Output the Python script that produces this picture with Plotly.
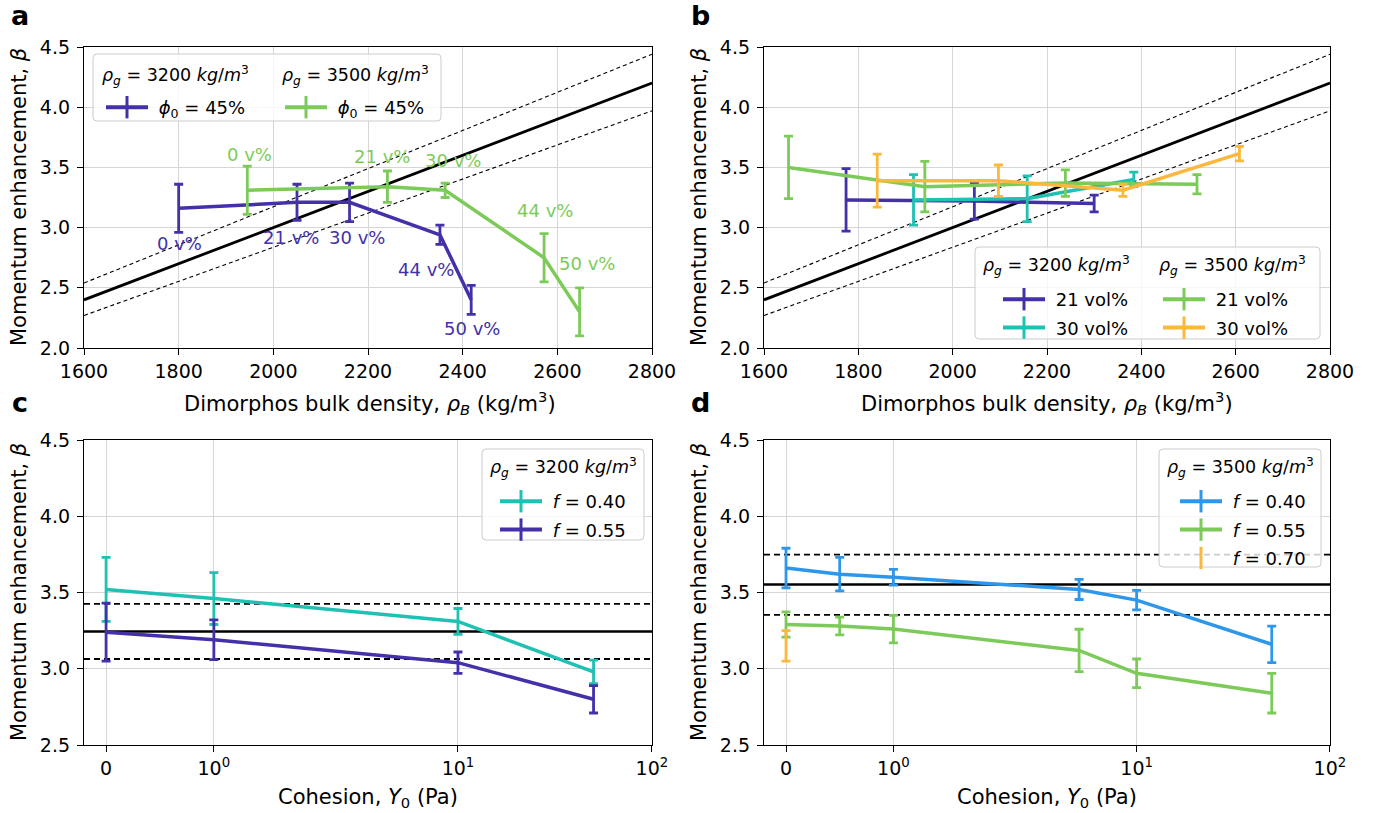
import math
import plotly.graph_objects as go

# every pixel position below is in the 1380x813 screen frame
W, H = 1380, 813
OFF = 0
FONT = "DejaVu Sans"

# ---------------- data ----------------
# reference beta-density relation (panels a, b)
rho_ref = [1600, 2800]
beta_ref = [2.40, 4.20]
beta_ref_hi = [2.54, 4.44]
beta_ref_lo = [2.27, 3.97]

# panel a : phi0 = 45 %
a_rho_3200 = [1800, 2050, 2161, 2352, 2418]
a_beta_3200 = [3.16, 3.21, 3.21, 2.94, 2.40]
a_err_3200 = [0.20, 0.15, 0.16, 0.08, 0.12]
a_rho_3500 = [1945, 2241, 2363, 2572, 2647]
a_beta_3500 = [3.31, 3.34, 3.31, 2.75, 2.30]
a_err_3500 = [0.20, 0.13, 0.06, 0.20, 0.20]
a_labels = ["0 v%", "21 v%", "30 v%", "44 v%", "50 v%"]

# panel b
b_rho_3200_21 = [1774, 2046, 2300]
b_beta_3200_21 = [3.23, 3.22, 3.20]
b_err_3200_21 = [0.26, 0.15, 0.07]
b_rho_3200_30 = [1917, 2158, 2384]
b_beta_3200_30 = [3.23, 3.24, 3.40]
b_err_3200_30 = [0.21, 0.19, 0.06]
b_rho_3500_21 = [1652, 1941, 2239, 2518]
b_beta_3500_21 = [3.50, 3.34, 3.37, 3.36]
b_err_3500_21 = [0.26, 0.21, 0.11, 0.08]
b_rho_3500_30 = [1840, 2097, 2361, 2608]
b_beta_3500_30 = [3.39, 3.39, 3.31, 3.615]
b_err_3500_30 = [0.22, 0.13, 0.05, 0.06]

# panel c : rho_g = 3200
c_Y0 = [0, 1, 10, 50]
c_beta_f040 = [3.52, 3.46, 3.31, 2.98]
c_err_f040 = [0.21, 0.17, 0.085, 0.077]
c_beta_f055 = [3.24, 3.19, 3.04, 2.80]
c_err_f055 = [0.19, 0.13, 0.07, 0.09]
c_ref = [3.245, 3.426, 3.064]      # solid, upper dashed, lower dashed

# panel d : rho_g = 3500
d_Y0 = [0, 0.5, 1, 5.8, 10, 50]
d_beta_f040 = [3.66, 3.62, 3.60, 3.52, 3.45, 3.16]
d_err_f040 = [0.13, 0.11, 0.052, 0.066, 0.064, 0.12]
d_beta_f055 = [3.29, 3.28, 3.26, 3.12, 2.97, 2.84]
d_err_f055 = [0.083, 0.058, 0.09, 0.139, 0.094, 0.13]
d_Y0_f070 = [0]
d_beta_f070 = [3.15]
d_err_f070 = [0.10]
d_ref = [3.552, 3.748, 3.353]

cohesion_ticks = [0, 1, 10, 100]
cohesion_ticktext = ["0", "10<sup>0</sup>", "10<sup>1</sup>", "10<sup>2</sup>"]

# ---------------- styling ----------------
INDIGO = "#4331a9"
TEAL = "#1fc1b3"
GREEN = "#7ccb59"
ORANGE = "#fcb83d"
BLUE = "#2e97ea"

# label placement for panel a (data coords)
a_lab_pos_3200 = [(1801, 2.87), (2037, 2.92), (2176, 2.92), (2322, 2.65), (2420, 2.16)]
a_lab_pos_3500 = [(1949, 3.61), (2230, 3.59), (2379, 3.56), (2573, 3.14), (2662, 2.70)]

# symlog-like cohesion axis: linear 0..1, then per-decade widths
DEC_W = [2.265, 1.80]


def cohesion_pos(v):
    out = []
    for y in v:
        if y <= 1:
            out.append(float(y))
        elif y <= 10:
            out.append(1 + DEC_W[0] * math.log10(y))
        else:
            out.append(1 + DEC_W[0] + DEC_W[1] * math.log10(y / 10))
    return out


C_RANGE = [-0.205, 1 + DEC_W[0] + DEC_W[1] + 0.0005]


def PX(px):
    return (px - OFF) / W


def PY(py):
    return 1 - (py - OFF) / H


fig = go.Figure()


def err_trace(x, y, e, color, xa, ya):
    return go.Scatter(
        x=x, y=y, mode="lines", xaxis=xa, yaxis=ya, showlegend=False, hoverinfo="skip",
        line=dict(color=color, width=3.5),
        error_y=dict(type="data", array=e, visible=True, color=color, thickness=2.8, width=4.5),
    )


def ref_line(x, y, xa, ya, dash=None, width=2.8):
    return go.Scatter(x=x, y=y, mode="lines", xaxis=xa, yaxis=ya, showlegend=False,
                      hoverinfo="skip", line=dict(color="black", width=width, dash=dash))


def legend_entry(name, color, legend, group, line=True):
    return go.Scatter(
        x=[None], y=[None], mode="lines+markers" if line else "markers",
        name="\u00a0" + name, legend=legend, legendgroup=group,
        xaxis="x", yaxis="y", hoverinfo="skip",
        line=dict(color=color, width=4),
        marker=dict(symbol="line-ns", size=20, color=color, line=dict(color=color, width=3)),
    )


# --- panel a / b reference lines ---
for xa, ya in (("x", "y"), ("x2", "y2")):
    fig.add_trace(ref_line(rho_ref, beta_ref, xa, ya))
    fig.add_trace(ref_line(rho_ref, beta_ref_hi, xa, ya, dash="4px,3px", width=1.1))
    fig.add_trace(ref_line(rho_ref, beta_ref_lo, xa, ya, dash="4px,3px", width=1.1))

# --- panel a ---
fig.add_trace(err_trace(a_rho_3200, a_beta_3200, a_err_3200, INDIGO, "x", "y"))
fig.add_trace(err_trace(a_rho_3500, a_beta_3500, a_err_3500, GREEN, "x", "y"))

# --- panel b ---
fig.add_trace(err_trace(b_rho_3200_21, b_beta_3200_21, b_err_3200_21, INDIGO, "x2", "y2"))
fig.add_trace(err_trace(b_rho_3200_30, b_beta_3200_30, b_err_3200_30, TEAL, "x2", "y2"))
fig.add_trace(err_trace(b_rho_3500_21, b_beta_3500_21, b_err_3500_21, GREEN, "x2", "y2"))
fig.add_trace(err_trace(b_rho_3500_30, b_beta_3500_30, b_err_3500_30, ORANGE, "x2", "y2"))

# --- panel c ---
fig.add_trace(ref_line(C_RANGE, [c_ref[0]] * 2, "x3", "y3", width=2.5))
fig.add_trace(ref_line(C_RANGE, [c_ref[1]] * 2, "x3", "y3", dash="6px,4px", width=1.8))
fig.add_trace(ref_line(C_RANGE, [c_ref[2]] * 2, "x3", "y3", dash="6px,4px", width=1.8))
fig.add_trace(err_trace(cohesion_pos(c_Y0), c_beta_f040, c_err_f040, TEAL, "x3", "y3"))
fig.add_trace(err_trace(cohesion_pos(c_Y0), c_beta_f055, c_err_f055, INDIGO, "x3", "y3"))

# --- panel d ---
fig.add_trace(ref_line(C_RANGE, [d_ref[0]] * 2, "x4", "y4", width=2.5))
fig.add_trace(ref_line(C_RANGE, [d_ref[1]] * 2, "x4", "y4", dash="6px,4px", width=1.8))
fig.add_trace(ref_line(C_RANGE, [d_ref[2]] * 2, "x4", "y4", dash="6px,4px", width=1.8))
fig.add_trace(err_trace(cohesion_pos(d_Y0), d_beta_f040, d_err_f040, BLUE, "x4", "y4"))
fig.add_trace(err_trace(cohesion_pos(d_Y0), d_beta_f055, d_err_f055, GREEN, "x4", "y4"))
fig.add_trace(err_trace(cohesion_pos(d_Y0_f070), d_beta_f070, d_err_f070, ORANGE, "x4", "y4"))

# --- legend entries ---
T3200 = "<i>ρ<sub>g</sub></i> = 3200 <i>kg</i>/<i>m</i><sup>3</sup>"
T3500 = "<i>ρ<sub>g</sub></i> = 3500 <i>kg</i>/<i>m</i><sup>3</sup>"
PHI = "<i>ϕ</i><sub>0</sub> = 45%"
fig.add_trace(legend_entry(PHI, INDIGO, "legend", "a1"))
fig.add_trace(legend_entry(PHI, GREEN, "legend2", "a2"))
fig.add_trace(legend_entry("21 vol%", INDIGO, "legend3", "b1"))
fig.add_trace(legend_entry("30 vol%", TEAL, "legend3", "b2"))
fig.add_trace(legend_entry("21 vol%", GREEN, "legend4", "b3"))
fig.add_trace(legend_entry("30 vol%", ORANGE, "legend4", "b4"))
fig.add_trace(legend_entry("<i>f</i> = 0.40", TEAL, "legend5", "c1"))
fig.add_trace(legend_entry("<i>f</i> = 0.55", INDIGO, "legend5", "c2"))
fig.add_trace(legend_entry("<i>f</i> = 0.40", BLUE, "legend6", "d1"))
fig.add_trace(legend_entry("<i>f</i> = 0.55", GREEN, "legend6", "d2"))
fig.add_trace(legend_entry("<i>f</i> = 0.70", ORANGE, "legend6", "d3", line=False))


def legend_cfg(sym_left_px, first_row_px):
    return dict(
        x=PX(sym_left_px - 5), y=PY(first_row_px - 14), xanchor="left", yanchor="top",
        bgcolor="rgba(0,0,0,0)", borderwidth=0,
        font=dict(size=18, color="black", family=FONT),
        itemwidth=42, tracegroupgap=2, traceorder="grouped",
        itemclick=False, itemdoubleclick=False,
    )


# --- axes ---
XA = [PX(84), PX(652)]
XB = [PX(764), PX(1330)]
YT = [PY(348), PY(47)]
YB = [PY(745), PY(440)]

axis_common = dict(
    showline=True, linecolor="black", linewidth=1.3, mirror=True,
    ticks="outside", ticklen=6, tickwidth=1.2, tickcolor="black",
    showgrid=True, gridcolor="#d6d6d6", gridwidth=1, zeroline=False,
    tickfont=dict(size=19, color="black", family=FONT),
    automargin=False,
)

rho_axis = dict(range=[1600, 2800], dtick=200, tick0=1600, ticklabelstandoff=0, **axis_common)
coh_axis = dict(range=C_RANGE, tickmode="array", tickvals=cohesion_pos(cohesion_ticks),
                ticktext=cohesion_ticktext, ticklabelstandoff=0, **axis_common)
beta_top = dict(range=[2.0, 4.5], dtick=0.5, tick0=2.0, tickformat=".1f",
                ticklabelstandoff=3, **axis_common)
beta_bot = dict(range=[2.5, 4.5], dtick=0.5, tick0=2.5, tickformat=".1f",
                ticklabelstandoff=3, **axis_common)


def rounded_box(x0, y0, x1, y1, r=4):
    path = (f"M {PX(x0 + r)},{PY(y0)} L {PX(x1 - r)},{PY(y0)} Q {PX(x1)},{PY(y0)} {PX(x1)},{PY(y0 + r)} "
            f"L {PX(x1)},{PY(y1 - r)} Q {PX(x1)},{PY(y1)} {PX(x1 - r)},{PY(y1)} L {PX(x0 + r)},{PY(y1)} "
            f"Q {PX(x0)},{PY(y1)} {PX(x0)},{PY(y1 - r)} L {PX(x0)},{PY(y0 + r)} Q {PX(x0)},{PY(y0)} {PX(x0 + r)},{PY(y0)} Z")
    return dict(type="path", path=path, xref="paper", yref="paper",
                fillcolor="rgba(255,255,255,0.8)", line=dict(color="#cccccc", width=1), layer="above")


annotations = []


def pix_ann(text, x_px, y_px, size, angle=0, bold=False, xanchor="center"):
    annotations.append(dict(
        text=f"<b>{text}</b>" if bold else text, x=PX(x_px), y=PY(y_px),
        xref="paper", yref="paper", xanchor=xanchor, yanchor="middle", showarrow=False,
        textangle=angle, font=dict(size=size, color="black", family=FONT)))


for letter, xp, yp in (("a", 20, 16), ("b", 700, 16), ("c", 20, 403), ("d", 700, 403)):
    pix_ann(letter, xp, yp, 27, bold=True)

YTITLE = "Momentum enhancement, <i>β</i>"
XTITLE_RHO = "Dimorphos bulk density, <i>ρ<sub>B</sub></i> (kg/m<sup>3</sup>)"
XTITLE_COH = "Cohesion, <i>Y</i><sub>0</sub> (Pa)"
for xp, yp in ((19, 197), (699, 197), (19, 592), (699, 592)):
    pix_ann(YTITLE, xp, yp, 21, angle=-90)
for xp, yp, t in ((370, 403, XTITLE_RHO), (1047, 403, XTITLE_RHO),
                  (368, 798, XTITLE_COH), (1047, 798, XTITLE_COH)):
    pix_ann(t, xp, yp, 21)

# legend column headers (left edge, centre y)
for t, xp, yp in ((T3200, 100, 76), (T3500, 280, 76), (T3200, 981, 265), (T3500, 1157, 265),
                  (T3200, 488, 467), (T3500, 1165, 467)):
    pix_ann(t, xp, yp, 17.5, xanchor="left")

for lab, (lx, ly) in zip(a_labels, a_lab_pos_3200):
    annotations.append(dict(text=lab, x=lx, y=ly, xref="x", yref="y", showarrow=False,
                            xanchor="center", yanchor="middle",
                            font=dict(size=18, color=INDIGO, family=FONT)))
for lab, (lx, ly) in zip(a_labels, a_lab_pos_3500):
    annotations.append(dict(text=lab, x=lx, y=ly, xref="x", yref="y", showarrow=False,
                            xanchor="center", yanchor="middle",
                            font=dict(size=18, color=GREEN, family=FONT)))

fig.update_layout(
    width=W, height=H, margin=dict(l=0, r=0, t=0, b=0, autoexpand=False),
    paper_bgcolor="white", plot_bgcolor="white",
    font=dict(family=FONT, color="black"),
    xaxis=dict(domain=XA, anchor="y", **rho_axis),
    yaxis=dict(domain=YT, anchor="x", **beta_top),
    xaxis2=dict(domain=XB, anchor="y2", **rho_axis),
    yaxis2=dict(domain=YT, anchor="x2", **beta_top),
    xaxis3=dict(domain=XA, anchor="y3", **coh_axis),
    yaxis3=dict(domain=YB, anchor="x3", **beta_bot),
    xaxis4=dict(domain=XB, anchor="y4", **coh_axis),
    yaxis4=dict(domain=YB, anchor="x4", **beta_bot),
    legend=legend_cfg(106, 103),
    legend2=legend_cfg(285, 103),
    legend3=legend_cfg(1003, 295),
    legend4=legend_cfg(1163, 295),
    legend5=legend_cfg(500, 497),
    legend6=legend_cfg(1180, 497),
    shapes=[rounded_box(93, 54, 441, 121), rounded_box(975, 247, 1320, 339),
            rounded_box(482, 449, 644, 540), rounded_box(1159, 449, 1321, 567)],
    annotations=annotations,
)

# remove the page's default body margin so the figure fills the window exactly
fig.write_html("out.html", config={"displayModeBar": False},
               post_script="document.body.style.margin='0px';")
